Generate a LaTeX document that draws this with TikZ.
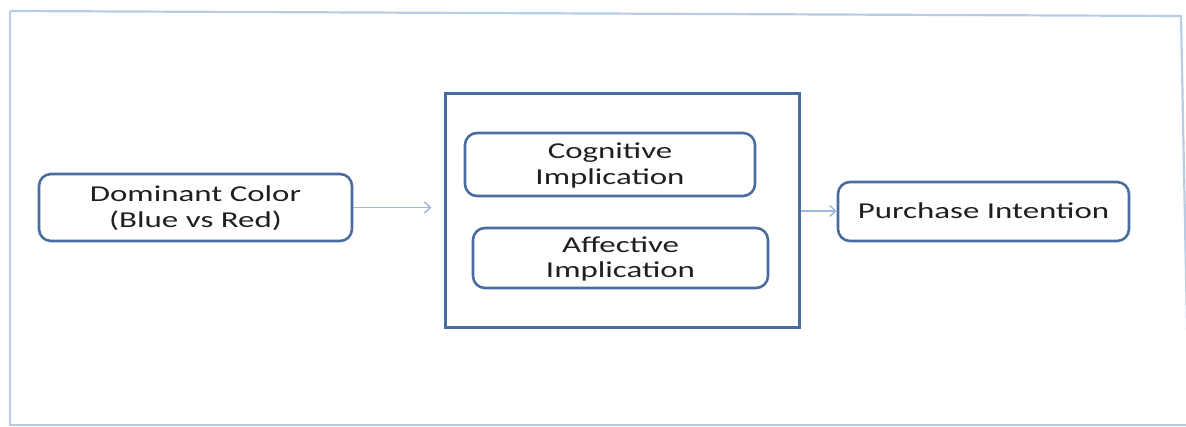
\documentclass[tikz,border=0pt]{standalone}
\usepackage{fontspec}
\setmainfont{Carlito}[FakeStretch=1.45]
\usetikzlibrary{arrows.meta}
\definecolor{boxblue}{HTML}{4A6C9E}
\definecolor{framblue}{HTML}{B8CCE4}
\definecolor{arrblue}{HTML}{9DB9DC}
\definecolor{txt}{HTML}{1F1F1F}
\tikzset{
  rbox/.style={draw=boxblue, line width=2.6pt, rounded corners=12pt, align=center,
    text=txt, font=\fontsize{22.7}{25.5}\selectfont, inner sep=0pt, text depth=2pt},
  sqbox/.style={draw=boxblue, line width=3pt, inner sep=0pt},
  conn/.style={draw=arrblue, line width=1.6pt, -{Straight Barb[length=6pt,width=11pt,line width=1.5pt]}},
  frame/.style={draw=framblue, line width=2.2pt}
}
\begin{document}
\begin{tikzpicture}[x=1pt,y=-1pt]
\useasboundingbox (0,0) rectangle (1186,427);
\draw[frame] (10,11) -- (1181,16) -- (1189,430);
\draw[frame] (10,11) -- (10,425) -- (1189,425);
\node[sqbox, minimum width=354pt, minimum height=234pt] (mid) at (622,211) {};
\node[rbox, minimum width=313pt, minimum height=67pt] (dom) at (195.5,207.5) {Dominant Color\\(Blue vs Red)};
\node[rbox, minimum width=290pt, minimum height=63pt] (cog) at (610,164.5) {Cognitive\\Implication};
\node[rbox, minimum width=295pt, minimum height=60pt] (aff) at (620.5,258) {Affective\\Implication};
\node[rbox, minimum width=291pt, minimum height=59pt] (pur) at (983.5,211.5) {Purchase Intention};
\draw[conn, shorten >=12pt] (dom.east) -- (dom.east -| mid.west);
\draw[conn] (mid.east) -- (mid.east -| pur.west);
\end{tikzpicture}
\end{document}
